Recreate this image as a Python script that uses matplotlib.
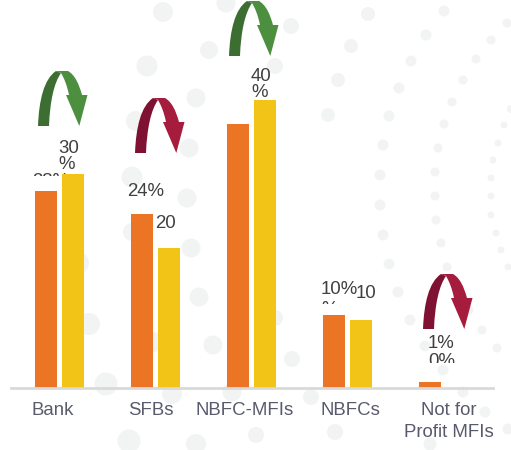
import matplotlib
matplotlib.use("Agg")
import matplotlib.pyplot as plt
from matplotlib.patches import Circle, PathPatch, Rectangle
from matplotlib.path import Path

categories = ["Bank", "SFBs", "NBFC-MFIs", "NBFCs", "Not for\nProfit MFIs"]
orange_vals = [27.3, 24.1, 36.7, 10.2, 0.9]
yellow_vals = [29.7, 19.5, 40.0, 9.5, 0.0]

# label text, left x, last line baseline y, clip bottom y (all pixels from top left)
bar_labels = [
    ("28%", 32, 186, 176),
    ("30\n%", 58, 169, 200),
    ("24%", 127, 196, 200),
    ("20\n%", 155, 244, 229),
    ("40\n%", 251, 97, 110),
    ("10%", 321, 294, 304),
    ("%", 321, 314, 304),
    ("10\n%", 356, 314, 299),
    ("1%", 428, 348, 363),
    ("0%", 428, 366, 363),
]
label_shift = [-6, -4, -6, 3, 6]

# background dots x, y, r in pixels
dots = [
    (163, 12, 10), (226, 3, 9.5), (209, 50, 9), (147, 66, 10.5), (196, 98, 9.5),
    (136, 121, 10), (189, 148, 9.5), (132, 177, 10.5), (187, 198, 9.5), (291, 26, 8),
    (275, 66, 8), (368, 14, 7), (351, 46, 7), (338, 80, 7), (328, 115, 7),
    (444, 11, 5.5), (426, 35, 5.5), (411, 61, 5.5), (399, 88, 5.5), (389, 116, 5.5),
    (383, 145, 5.5), (380, 175, 5.5), (380, 205, 5.5), (507, 23, 4.5), (491, 40, 4.5),
    (476, 59, 4.5), (463, 80, 4.5), (452, 102, 4.5), (444, 124, 4.5), (438, 148, 4.5),
    (435, 172, 4.5), (435, 196, 4.5), (436, 220, 4.5), (504, 125, 3.5), (498, 143, 3.5),
    (493, 160, 3.5), (491, 178, 3.5), (491, 196, 3.5), (491, 215, 3.5), (511, 109, 4),
    (383, 235, 5.5), (441, 243, 4.5), (496, 233, 3.5), (501, 250, 3.5), (389, 264, 5.5),
    (447, 267, 4.5), (508, 267, 3.5), (398, 292, 5.5), (410, 320, 5.5), (469, 310, 4.5),
    (482, 330, 4.5), (425, 346, 5.5), (497, 348, 4.5), (443, 370, 5.5), (463, 392, 5.5),
    (485, 412, 5.5), (508, 429, 5.5), (430, 444, 6.5), (335, 432, 8), (311, 397, 8),
    (292, 359, 8), (275, 318, 8), (256, 435, 8), (78, 263, 11), (89, 324, 11),
    (106, 384, 11.5), (129, 441, 11.5), (132, 232, 9), (191, 248, 9.5), (199, 297, 9.5),
    (213, 345, 9.5), (153, 342, 10), (172, 394, 10), (232, 392, 9.5), (196, 444, 10),
]

# arrow left x, top y, dark colour, light colour
arrows = [
    (38, 71, "#3c6e32", "#4c8f3f"),
    (135, 98, "#7f1232", "#a51c3c"),
    (229, 1, "#3c6e32", "#4c8f3f"),
    (423, 274, "#7f1232", "#a51c3c"),
]

plt.rcParams["font.family"] = ["Liberation Sans", "DejaVu Sans"]
fig = plt.figure(figsize=(5.11, 4.5), dpi=100)

bg = fig.add_axes([0, 0, 1, 1], zorder=0)
bg.set_xlim(0, 511)
bg.set_ylim(450, 0)
bg.axis("off")
for x, y, r in dots:
    bg.add_patch(Circle((x, y), r, color="#f2f4f4", lw=0))


def draw_arrow(x, y, dark, light):
    M, C, L, Z = Path.MOVETO, Path.CURVE4, Path.LINETO, Path.CLOSEPOLY
    left = [(0, 55), (1, 29), (6, 8), (18, 0), (23, 2), (16, 12), (12, 30), (11, 55), (0, 55)]
    left_codes = [M, C, C, C, L, C, C, C, Z]
    right = [(18, 0), (30, 0), (37, 4), (41, 13), (44, 24), (49.5, 24), (41.3, 55),
             (28, 24), (31, 24), (29, 14), (26, 7), (23, 2), (18, 0)]
    right_codes = [M, L, C, C, C, L, L, L, L, C, C, C, Z]
    for pts, codes, col in [(left, left_codes, dark), (right, right_codes, light)]:
        pts = [(x + px, y + py) for px, py in pts]
        bg.add_patch(PathPatch(Path(pts, codes), facecolor=col, lw=0, zorder=3))


for x, y, dark, light in arrows:
    draw_arrow(x, y, dark, light)

# main axes: baseline sits at y=388, one category is 96 px wide
ax = fig.add_axes([11 / 511, 62 / 450, 482 / 511, 388 / 450], zorder=1)
ax.patch.set_alpha(0)
ax.set_xlim(-0.5, 4.52)
ax.set_ylim(0, 388 / 7.2)
xs = list(range(len(categories)))
ax.bar([i - 0.14 for i in xs], orange_vals, width=0.229, color="#eb7524", lw=0)
ax.bar([i + 0.146 for i in xs], yellow_vals, width=0.229, color="#f2c417", lw=0)

for s in ["top", "left", "right"]:
    ax.spines[s].set_visible(False)
ax.spines["bottom"].set_color("#d9d9d9")
ax.spines["bottom"].set_linewidth(2)
ax.set_yticks([])
ax.set_xticks(xs)
ax.set_xticklabels([])
ax.tick_params(axis="x", length=0)
for i, name in enumerate(categories):
    ax.annotate(name, xy=(i, 0), xytext=(label_shift[i], -14), textcoords="offset pixels",
                ha="center", va="top", fontsize=13.4, color="#595b6d", linespacing=1.35,
                annotation_clip=False)

for txt, x, y, clip_y in bar_labels:
    t = bg.text(x, y, txt, ha="left", va="baseline", fontsize=13.4, color="#404040",
                linespacing=0.95, zorder=4, clip_on=True)
    t.set_clip_path(Rectangle((0, 0), 511, clip_y, transform=bg.transData))

fig.savefig("out.png", dpi=100)
plt.close(fig)
